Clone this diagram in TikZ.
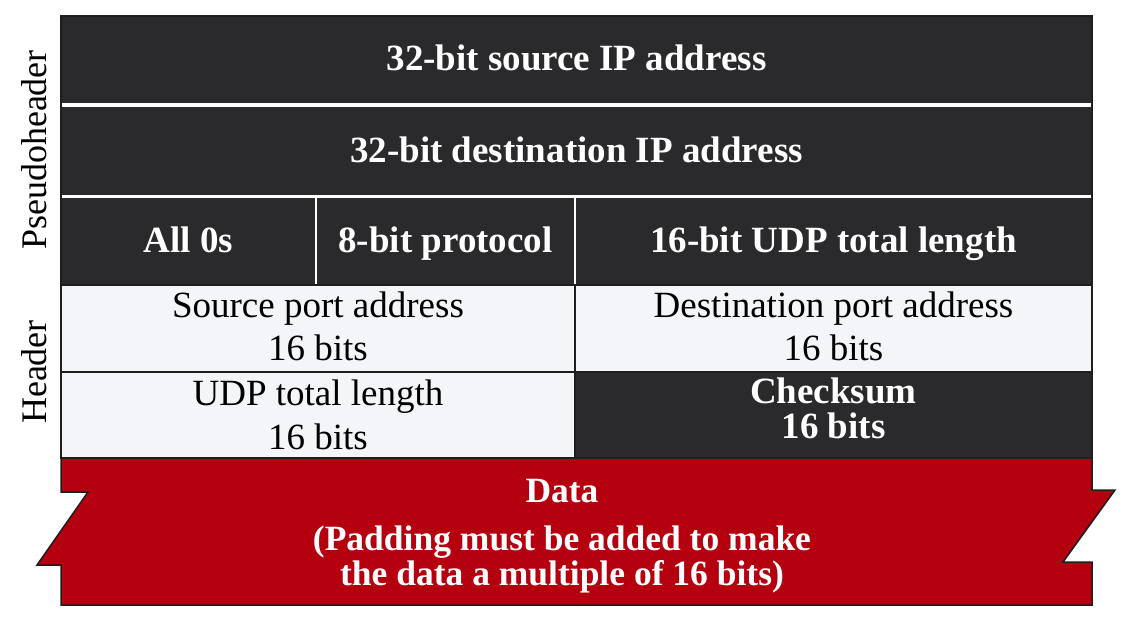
\documentclass[tikz,border=0pt]{standalone}
\usepackage{fontspec}
\setmainfont{Liberation Serif}
\definecolor{darkcell}{HTML}{2A2A2C}
\definecolor{lightcell}{HTML}{F3F5F8}
\definecolor{datared}{HTML}{B4000F}
\definecolor{edge}{HTML}{1E1E1E}
\tikzset{
  darkbox/.style={rectangle, fill=darkcell, draw=white, line width=2.5pt, inner sep=0pt},
  lightbox/.style={rectangle, fill=lightcell, draw=edge, line width=1.5pt, inner sep=0pt},
  boldtext/.style={anchor=base, inner sep=0pt, text=white, font=\fontsize{37}{40}\selectfont\bfseries},
  plaintext/.style={anchor=base, inner sep=0pt, text=black, font=\fontsize{37}{40}\selectfont},
  datatext/.style={anchor=base, inner sep=0pt, text=white, font=\fontsize{35.5}{38}\selectfont\bfseries},
  sidelabel/.style={rotate=90, font=\fontsize{36}{40}\selectfont, text=black}
}
\begin{document}
\begin{tikzpicture}[x=1pt,y=-1pt]
\useasboundingbox (0,0) rectangle (1139,635);
% pseudoheader cells
\node[darkbox, minimum width=1031pt, minimum height=89pt] (src) at (576.5,60) {};
\node[darkbox, minimum width=1031pt, minimum height=91pt] (dst) at (576.5,151) {};
\node[darkbox, minimum width=255pt, minimum height=88pt] (zeros) at (188.5,241) {};
\node[darkbox, minimum width=259pt, minimum height=88pt] (proto) at (445.5,241) {};
\node[darkbox, minimum width=517pt, minimum height=88pt] (ulen) at (833.5,241) {};
\draw[edge, line width=2.5pt] (61,16) rectangle (1092,285);
\node[boldtext] (srct) at (576.5,70) {32-bit source IP address};
\node[boldtext] (dstt) at (576.5,162) {32-bit destination IP address};
\node[boldtext] (zerost) at (188.5,252) {All 0s};
\node[boldtext] (protot) at (445.5,252) {8-bit protocol};
\node[boldtext] (ulent) at (833.5,252) {16-bit UDP total length};
% header cells
\node[lightbox, minimum width=514pt, minimum height=87pt] (sport) at (318,328.5) {};
\node[lightbox, minimum width=517pt, minimum height=87pt] (dport) at (833.5,328.5) {};
\node[lightbox, minimum width=514pt, minimum height=86pt] (tlen) at (318,415) {};
\node[lightbox, fill=darkcell, minimum width=517pt, minimum height=86pt] (csum) at (833.5,415) {};
\node[plaintext] (sporta) at (318,317) {Source port address};
\node[plaintext] (sportb) at (318,360) {16 bits};
\node[plaintext] (dporta) at (833.5,317) {Destination port address};
\node[plaintext] (dportb) at (833.5,360) {16 bits};
\node[plaintext] (tlena) at (318,405) {UDP total length};
\node[plaintext] (tlenb) at (318,449) {16 bits};
\node[boldtext] (csuma) at (833.5,403) {Checksum};
\node[boldtext] (csumb) at (833.5,438) {16 bits};
% data
\draw[fill=datared, draw=edge, line width=1.5pt, line join=miter]
  (61,458) -- (1092,458) -- (1092,490) -- (1115,490) -- (1063,562) -- (1092,562) -- (1092,605)
  -- (61,605) -- (61,565) -- (37,565) -- (88,492) -- (61,492) -- cycle;
\node[datatext] (data) at (562,502) {Data};
\node[datatext] (pada) at (562,550) {(Padding must be added to make};
\node[datatext] (padb) at (562,585) {the data a multiple of 16 bits)};
% side labels
\node[sidelabel] (pseudo) at (34,150) {Pseudoheader};
\node[sidelabel] (hdr) at (34,372) {Header};
\end{tikzpicture}
\end{document}
